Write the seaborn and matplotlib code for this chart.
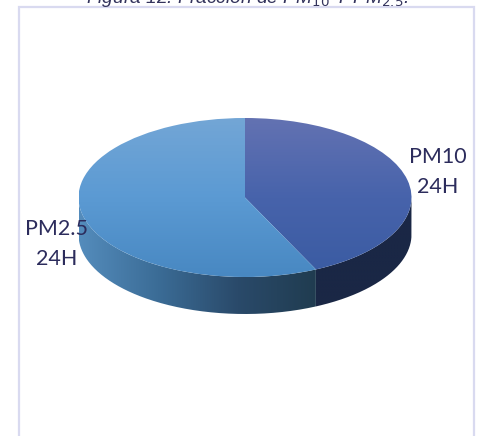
import numpy as np
import matplotlib
matplotlib.use("Agg")
import matplotlib.pyplot as plt
from matplotlib.patches import PathPatch
from matplotlib.path import Path
import seaborn as sns

# valores
labels = ["PM10\n24H", "PM2.5\n24H"]
values = [43, 57]
title = "Figura 12: Fracción de PM$_{10}$ Y PM$_{2.5}$."

sns.set_theme(style="white")
plt.rcParams["font.family"] = ["Lato", "DejaVu Sans"]
plt.rcParams["mathtext.default"] = "it"

W, H = 481, 436
CX, CY = 245, 197.5   # centro del pie en pixeles
RX, RY = 166.5, 79.5  # radios de la elipse
DEPTH = 37 / RY
TEXT = "#2c2c5c"
BORDER = "#d9daf0"

top_cmaps = [
    sns.blend_palette(["#6372b2", "#4763ab", "#3a5ba2"], as_cmap=True),
    sns.blend_palette(["#73a6d6", "#5b9ad3", "#4888c2"], as_cmap=True),
]
side_cmaps = [
    sns.blend_palette(["#1a2745", "#1a2745"], as_cmap=True),
    sns.blend_palette(["#548cbc", "#3b6c96", "#2a4a6a", "#203c50"], as_cmap=True),
]

fig = plt.figure(figsize=(W / 100, H / 100), dpi=100)
ax = fig.add_axes([0, 0, 1, 1])
wedges, _ = ax.pie(values, startangle=90, counterclock=False, radius=1)

x0, x1 = -CX / RX, (W - CX) / RX
y0, y1 = -(H - CY) / RY, CY / RY

for i, w in enumerate(wedges):
    w.set_facecolor("none")
    w.set_edgecolor("none")
    # cara superior con gradiente vertical
    img = ax.imshow(np.linspace(0, 1, 256).reshape(-1, 1), cmap=top_cmaps[i], aspect="auto",
                    extent=(-1, 1, -1, 1), origin="upper", zorder=3)
    img.set_clip_path(w)

    # pared lateral, solo la parte de abajo de la elipse
    t = np.radians(np.linspace(w.theta1, w.theta2, 400))
    t = t[np.sin(t) <= 0]
    upper = np.column_stack([np.cos(t), np.sin(t)])
    lower = upper[::-1] - [0, DEPTH]
    wall = PathPatch(Path(np.vstack([upper, lower, upper[:1]])), fc="none", ec="none", zorder=1)
    ax.add_patch(wall)
    x_min, x_max = upper[:, 0].min(), upper[:, 0].max()
    img = ax.imshow(np.linspace(0, 1, 256).reshape(1, -1), cmap=side_cmaps[i], aspect="auto",
                    extent=(x_min, x_max, -1 - DEPTH, 0), zorder=2)
    img.set_clip_path(wall)

ax.set_xlim(x0, x1)
ax.set_ylim(y0, y1)
ax.set_aspect("auto")
ax.axis("off")

# marco del grafico
fig.add_artist(plt.Rectangle((18.5 / W, -0.02), 456 / W, 1.02 - 7.5 / H, transform=fig.transFigure,
                             fc="none", ec=BORDER, lw=1.6))

fig.text(437.5 / W, 1 - 172 / H, labels[0], color=TEXT, fontsize=15.5, ha="center", va="center",
         linespacing=1.62)
fig.text(56.5 / W, 1 - 244 / H, labels[1], color=TEXT, fontsize=15.5, ha="center", va="center",
         linespacing=1.62, zorder=5)
fig.text(247 / W, 1 - 3 / H, title, color="#33335c", fontsize=13.8, style="italic", ha="center",
         va="baseline", family=["Liberation Sans"])

fig.savefig("out.png", dpi=100)
